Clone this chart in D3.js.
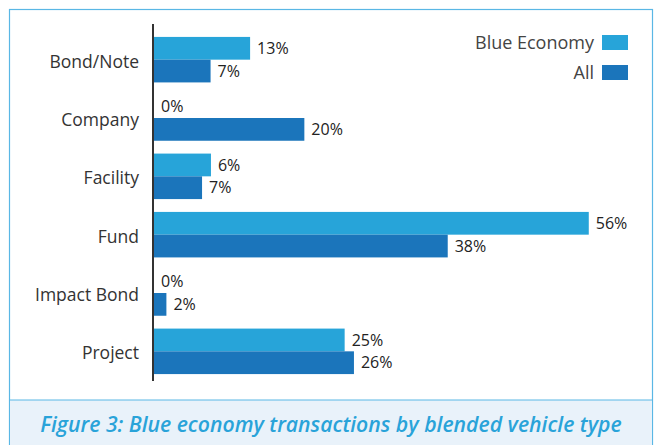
<!DOCTYPE html>
<html><head><meta charset="utf-8">
<script src="https://cdn.jsdelivr.net/npm/d3@7"></script>
<style>body{margin:0;background:#fff}svg{display:block}text{font-family:"Open Sans",sans-serif}</style>
</head><body>
<svg id="c" width="655" height="445"></svg>
<script>
const categories = ["Bond/Note","Company","Facility","Fund","Impact Bond","Project"];
const seriesNames = ["Blue Economy","All"];
const blueEconomy = [12.4, 0, 7.35, 56.1, 0, 24.6];
const allValues = [7.3, 19.4, 6.2, 37.9, 1.6, 25.8];
const blueEconomyLabels = ["13%","0%","6%","56%","0%","25%"];
const allLabels = ["7%","20%","7%","38%","2%","26%"];
const colors = ["#27a4d9","#1b75bb"];
const caption = "Figure 3: Blue economy transactions by blended vehicle type";

const svg = d3.select("#c");
// frame
svg.append("rect").attr("x",9.5).attr("y",9.5).attr("width",643).attr("height",440)
  .attr("fill","#fff").attr("stroke","#5ab7e5").attr("stroke-width",1.2);
svg.append("rect").attr("x",10).attr("y",400).attr("width",642).attr("height",50).attr("fill","#e9f2fa");
svg.append("line").attr("x1",9.5).attr("x2",652.5).attr("y1",400).attr("y2",400).attr("stroke","#5ab7e5").attr("stroke-width",1.2);

const x = d3.scaleLinear().domain([0,60]).range([154,154+60*7.75]);
const y = d3.scaleBand().domain(categories).range([30.5,380.5]).paddingInner(0.22).paddingOuter(0.11);
const sub = d3.scaleBand().domain(seriesNames).range([0,y.bandwidth()]);

const data = categories.map((c,i)=>({cat:c, vals:[
  {s:seriesNames[0], v:blueEconomy[i], l:blueEconomyLabels[i]},
  {s:seriesNames[1], v:allValues[i], l:allLabels[i]}]}));

const g = svg.selectAll("g.grp").data(data).join("g").attr("class","grp")
  .attr("transform",d=>`translate(0,${y(d.cat)})`);
g.selectAll("rect").data(d=>d.vals).join("rect")
  .attr("x",x(0)).attr("y",d=>sub(d.s)).attr("height",sub.bandwidth())
  .attr("width",d=>x(d.v)-x(0)).attr("fill",(d,i)=>colors[i]);
g.selectAll("text.val").data(d=>d.vals).join("text").attr("class","val")
  .attr("x",d=>x(d.v)+7).attr("y",d=>sub(d.s)+sub.bandwidth()/2).attr("dy","0.36em")
  .attr("font-size",16).attr("fill","#222").text(d=>d.l);

// axis
const yAxis = d3.axisLeft(y).tickSize(0).tickPadding(14);
const ax = svg.append("g").attr("transform","translate(153,0)").call(yAxis);
ax.select(".domain").remove();
ax.selectAll("text").attr("font-size",17.5).attr("dy","0.45em").attr("fill","#333").attr("font-family","'Open Sans',sans-serif");
svg.append("line").attr("x1",153).attr("x2",153).attr("y1",24).attr("y2",381).attr("stroke","#333").attr("stroke-width",2);

// legend
const leg = svg.append("g");
seriesNames.forEach((s,i)=>{
  const yy = 42.5 + i*30;
  leg.append("rect").attr("x",602).attr("y",yy-7.5).attr("width",26).attr("height",15).attr("fill",colors[i]);
  leg.append("text").attr("x",594).attr("y",yy).attr("dy","0.36em").attr("text-anchor","end")
    .attr("font-size",18).attr("fill","#444").text(s);
});

// caption
const cap = svg.append("text").attr("x",331).attr("y",432).attr("text-anchor","middle")
  .attr("font-size",21).attr("font-weight",600).attr("font-style","italic").attr("fill","#29a3d9").text(caption);
const w = cap.node().getComputedTextLength();
cap.attr("font-size", 21*582/w);
</script>
</body></html>
